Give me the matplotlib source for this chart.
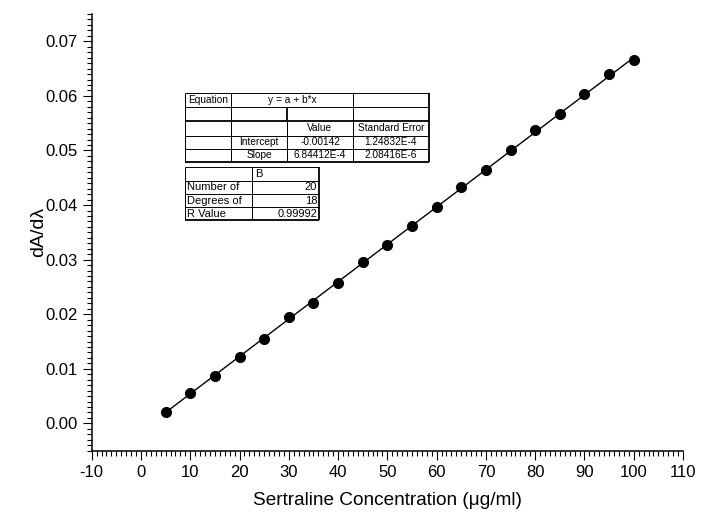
import numpy as np
import matplotlib
matplotlib.use("Agg")
import matplotlib.pyplot as plt

plt.rcParams["font.family"] = ["Liberation Sans", "DejaVu Sans"]
plt.rcParams["axes.unicode_minus"] = False

# --- data ---
conc = [5, 10, 15, 20, 25, 30, 35, 40, 45, 50, 55, 60, 65, 70, 75, 80, 85, 90, 95, 100]
dadl = [0.0020, 0.0055, 0.0087, 0.0121, 0.0155, 0.0195, 0.0221, 0.0258, 0.0295, 0.0327,
        0.0362, 0.0396, 0.0433, 0.0464, 0.0501, 0.0537, 0.0566, 0.0603, 0.0640, 0.0665]

# linear fit reported in the table
fit_a = -0.00142
fit_b = 6.84412e-4

eq_rows = [
    ["Equation", "y = a + b*x", ""],
    ["", "", "", ""],
    ["", "", "Value", "Standard Error"],
    ["", "Intercept", "-0.00142", "1.24832E-4"],
    ["", "Slope", "6.84412E-4", "2.08416E-6"],
]
stat_rows = [
    ["", "B"],
    ["Number of", "20"],
    ["Degrees of", "18"],
    ["R Value", "0.99992"],
]

W, H = 701, 518
fig = plt.figure(figsize=(W / 100, H / 100), dpi=100)
ax = fig.add_axes([91.7 / W, 1 - 450.7 / H, (683 - 91.7) / W, (450.7 - 14) / H])

xs = np.array([min(conc), max(conc)])
ax.plot(xs, fit_a + fit_b * xs, color="black", lw=1.0, zorder=2)
ax.plot(conc, dadl, "o", color="black", ms=7, zorder=3)

ax.set_xlim(-10, 110)
ax.set_ylim(-0.005, 0.075)
ax.set_xticks(np.arange(-10, 111, 10))
ax.set_xticks(np.arange(-10, 111, 1), minor=True)
ax.set_yticks(np.arange(0, 0.0701, 0.01))
ax.set_yticks(np.arange(-0.005, 0.0751, 0.001), minor=True)
ax.yaxis.set_major_formatter(plt.FormatStrFormatter("%.2f"))
for s in ["top", "right"]:
    ax.spines[s].set_visible(False)
for s in ["left", "bottom"]:
    ax.spines[s].set_linewidth(1.1)
ax.tick_params(which="major", direction="out", length=6.5, width=0.8, labelsize=12, pad=3.5)
ax.tick_params(which="minor", direction="out", length=3.6, width=0.8)
ax.set_xlabel("Sertraline Concentration (\u03bcg/ml)", fontsize=13.7, labelpad=9)
ax.set_ylabel("dA/d\u03bb", fontsize=14, labelpad=-1)

# --- result tables, laid out in figure pixels ---
tab = fig.add_axes([0, 0, 1, 1], facecolor="none")
tab.set_xlim(0, W)
tab.set_ylim(H, 0)
tab.axis("off")

def hline(x0, x1, y, lw=0.7):
    tab.plot([x0, x1], [y, y], color="black", lw=lw, solid_capstyle="butt")

def vline(x, y0, y1, lw=0.7):
    tab.plot([x, x], [y0, y1], color="black", lw=lw, solid_capstyle="butt")

fs1 = 7.3
c1 = [185, 231, 287, 353, 429]
r1 = [93.3, 107.3, 121.3, 135.5, 149, 162]
for i, y in enumerate(r1):
    hline(c1[0], c1[-1], y, lw=1.3 if i in (2, 5) else 0.7)
vline(c1[0], r1[0], r1[-1])
vline(c1[1], r1[0], r1[-1])
vline(c1[3], r1[0], r1[-1])
vline(c1[4], r1[0], r1[-1], lw=1.3)
vline(c1[2], r1[1], r1[2], lw=1.3)
vline(c1[2], r1[2], r1[-1])
for i, row in enumerate(eq_rows):
    yc = (r1[i] + r1[i + 1]) / 2
    if i == 0:
        spans = [(c1[0], c1[1]), (c1[1], c1[3]), (c1[3], c1[4])]
    else:
        spans = list(zip(c1[:-1], c1[1:]))
    for (x0, x1), txt in zip(spans, row):
        tab.text((x0 + x1) / 2, yc, txt, ha="center", va="center", fontsize=fs1)

fs2 = 8
c2 = [185, 251.7, 319.3]
r2 = [167.3, 180.7, 194, 207.3, 220]
for i, y in enumerate(r2):
    hline(c2[0], c2[-1], y, lw=1.3 if i == len(r2) - 1 else 0.7)
vline(c2[0], r2[0], r2[-1])
vline(c2[1], r2[0], r2[-1])
vline(c2[2], r2[0], r2[-1], lw=1.3)
for i, (lab, val) in enumerate(stat_rows):
    yc = (r2[i] + r2[i + 1]) / 2
    tab.text(c2[0] + 2, yc, lab, ha="left", va="center", fontsize=fs2)
    if i == 0:
        tab.text(c2[1] + 3, yc, val, ha="left", va="center", fontsize=fs2)
    else:
        tab.text(c2[2] - 2, yc, val, ha="right", va="center", fontsize=fs2)

fig.savefig("out.png", dpi=100)
